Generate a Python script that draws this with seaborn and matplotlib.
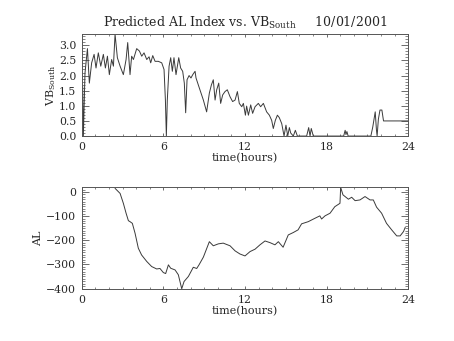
import matplotlib
matplotlib.use("Agg")
import matplotlib.pyplot as plt
import seaborn as sns
import pandas as pd
from matplotlib.ticker import MultipleLocator

# ---------------- data ----------------
vb_time = [0.0, 0.07, 0.12, 0.24, 0.42, 0.56, 0.73, 0.91, 1.05, 1.22, 1.40, 1.59, 1.74,
           1.89, 2.03, 2.20, 2.33, 2.45, 2.62, 2.82, 3.06, 3.26, 3.38, 3.55, 3.67, 3.80,
           4.04, 4.24, 4.41, 4.58, 4.78, 4.95, 5.07, 5.22, 5.39, 5.63, 5.88, 6.05, 6.15,
           6.22, 6.29, 6.42, 6.54, 6.66, 6.78, 6.93, 7.13, 7.27, 7.42, 7.54, 7.64, 7.74,
           7.89, 8.03, 8.16, 8.33, 8.40, 8.65, 8.94, 9.18, 9.38, 9.53, 9.67, 9.80, 9.92,
           10.07, 10.21, 10.36, 10.53, 10.70, 10.90, 11.09, 11.27, 11.44, 11.58, 11.76,
           11.88, 12.03, 12.12, 12.25, 12.42, 12.56, 12.74, 12.98, 13.15, 13.35, 13.59,
           13.79, 13.96, 14.08, 14.23, 14.38, 14.52, 14.70, 14.87, 15.01, 15.14, 15.26,
           15.36, 15.55, 15.70, 15.85, 16.53, 16.68, 16.78, 16.87, 17.02, 17.27, 19.25,
           19.36, 19.42, 19.49, 19.58, 21.25, 21.39, 21.57, 21.66, 21.71, 21.80, 21.92,
           22.06, 22.18, 24.0]
vb_south = [0.0, 1.64, 0.0, 2.08, 2.89, 1.75, 2.42, 2.70, 2.25, 2.75, 2.31, 2.70, 2.25,
            2.64, 2.03, 2.53, 2.31, 3.37, 2.59, 2.31, 2.03, 2.53, 3.09, 2.03, 2.64, 2.53,
            2.89, 2.81, 2.64, 2.75, 2.53, 2.62, 2.42, 2.66, 2.47, 2.47, 2.42, 2.20, 1.19,
            0.0, 1.19, 2.31, 2.59, 2.14, 2.59, 2.03, 2.59, 2.25, 2.14, 1.75, 0.77, 1.86,
            2.00, 1.92, 2.03, 2.14, 1.92, 1.58, 1.19, 0.80, 1.42, 1.69, 1.86, 1.19, 1.53,
            1.75, 1.08, 1.36, 1.47, 1.53, 1.30, 1.14, 1.19, 1.47, 1.08, 0.97,
            1.08, 0.69, 0.99, 0.69, 1.03, 0.75, 0.97, 1.08, 0.97, 1.08, 0.80,
            0.69, 0.52, 0.25, 0.52, 0.69, 0.61, 0.41, 0.0, 0.36, 0.0, 0.28,
            0.10, 0.0, 0.19, 0.0, 0.0, 0.28, 0.0, 0.25, 0.0, 0.0, 0.0,
            0.19, 0.05, 0.15, 0.0, 0.0, 0.30, 0.80, 0.20, 0.0, 0.55, 0.86,
            0.86, 0.50, 0.50]

al_time = [2.45, 2.82, 3.06, 3.26, 3.43, 3.55, 3.72, 3.92, 4.16, 4.40, 4.78, 5.14, 5.51,
           5.75, 6.00, 6.17, 6.37, 6.54, 6.86, 7.10, 7.35, 7.52, 7.84, 8.20, 8.45, 8.62,
           8.94, 9.38, 9.67, 10.04, 10.40, 10.90, 11.27, 11.63, 12.00, 12.37, 12.74, 13.10,
           13.47, 13.84, 14.20, 14.45, 14.80, 15.18, 15.55, 15.90, 16.16, 16.65, 17.14,
           17.50, 17.63, 17.88, 18.25, 18.60, 18.98, 19.03, 19.20, 19.60, 19.84, 20.09,
           20.45, 20.82, 21.19, 21.43, 21.67, 22.04, 22.40, 22.78, 23.15, 23.40, 23.65,
           23.78]
al_index = [15, -6, -47, -88, -119, -123, -130, -171, -233, -261, -288, -309, -319,
            -317, -334, -338, -302, -316, -323, -343, -401, -371, -350, -312, -317, -302,
            -270, -206, -223, -215, -212, -223, -244, -257, -265, -247, -237, -219,
            -203, -210, -219, -206, -229, -178, -168, -157, -132, -123, -109,
            -99, -112, -99, -88, -61, -47, 19, -12, -30, -22, -36,
            -33, -19, -33, -33, -63, -88, -130, -157, -182, -182, -164,
            -146]

x_ticks = [0, 6, 12, 18, 24]
vb_ticks = [0.0, 0.5, 1.0, 1.5, 2.0, 2.5, 3.0]
al_ticks = [-400, -300, -200, -100, 0]

title_text = "Predicted AL Index vs. VB$_{\\rm South}$     10/01/2001"

# ---------------- style ----------------
sns.set_style("ticks")
plt.rcParams["font.family"] = ["DejaVu Serif", "DejaVu Sans"]
plt.rcParams["mathtext.fontset"] = "dejavuserif"

df_vb = pd.DataFrame({"time": vb_time, "vb": vb_south})
df_al = pd.DataFrame({"time": al_time, "al": al_index})

fig = plt.figure(figsize=(4.54, 3.41), dpi=100)
ax1 = fig.add_axes([0.180, 0.601, 0.7193, 0.299])
ax2 = fig.add_axes([0.180, 0.1525, 0.7193, 0.298])

line_c = "#3a3a3a"
sns.lineplot(data=df_vb, x="time", y="vb", ax=ax1, estimator=None, sort=False,
             color=line_c, linewidth=0.7)
sns.lineplot(data=df_al, x="time", y="al", ax=ax2, estimator=None, sort=False,
             color=line_c, linewidth=0.7)

ax1.set_ylim(0, max(vb_south))
ax2.set_ylim(-402, 19)

for ax in (ax1, ax2):
    ax.set_xlim(0, 24)
    ax.set_xticks(x_ticks)
    ax.set_xticklabels([str(t) for t in x_ticks])
    ax.xaxis.set_minor_locator(MultipleLocator(1))
    for s in ax.spines.values():
        s.set_color("#555555")
        s.set_linewidth(0.7)
        s.set_visible(True)
    ax.tick_params(axis="x", which="major", direction="in", length=2.2, width=0.6,
                   top=True, bottom=True, labelsize=7.8, pad=4, color="#555555")
    ax.tick_params(axis="x", which="minor", direction="in", length=1.3, width=0.5,
                   top=True, bottom=True, color="#555555")
    ax.tick_params(axis="y", which="major", direction="in", length=4.8, width=0.6,
                   left=True, right=True, labelsize=7.8, pad=4, color="#555555")
    ax.tick_params(axis="y", which="minor", direction="in", length=2.4, width=0.5,
                   left=True, right=True, color="#555555")
    ax.set_xlabel("time(hours)", fontsize=8, labelpad=1)

ax1.set_yticks(vb_ticks)
ax1.set_yticklabels([f"{v:.1f}" for v in vb_ticks])
ax1.yaxis.set_minor_locator(MultipleLocator(0.1))
ax1.set_ylabel("VB$_{\\rm South}$", fontsize=8, labelpad=0.5)
ax1.set_title(title_text, fontsize=9, pad=5)

ax2.set_yticks(al_ticks)
ax2.set_yticklabels([str(v).replace("-", "\u2212") for v in al_ticks])
ax2.yaxis.set_minor_locator(MultipleLocator(10))
ax2.set_ylabel("AL", fontsize=8, labelpad=2)

fig.savefig("out.png", dpi=100)
